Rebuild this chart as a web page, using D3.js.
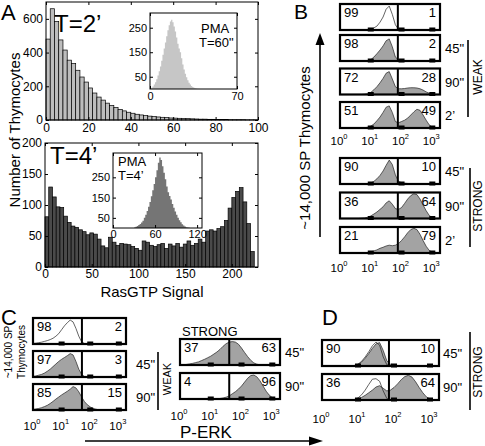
<!DOCTYPE html>
<html><head><meta charset="utf-8">
<script src="https://cdn.jsdelivr.net/npm/d3@7"></script>
<style>body{margin:0;background:#fff} svg{display:block}</style>
</head><body><svg id="c" width="485" height="446"></svg>
<script>
// ---------------- DATA ----------------
// Panel A, top: RasGTP histogram T=2' (bin width 2, starting at 0)
const hist2BinWidth = 2;
const hist2Counts = [480,660,585,475,415,355,335,295,255,225,190,160,136,118,100,86,74,63,54,46,40,34,30,26,23,20,18,16,14,12,11,10,9,8,7,6,5,5,4,4,3,3,3,2,2,2,2,1,1,1];
const hist2XTicks = [0,20,40,60,80,100];
const hist2YTicks = [0,200,400,600];
// Panel A, bottom: RasGTP histogram T=4' (bin width 4)
const hist4BinWidth = 4;
const hist4Counts = [81,129,113,97,96,82,72,66,64,60,57,52,55,53,45,34,31,48,40,35,38,37,36,33,30,27,42,40,35,33,36,38,30,37,34,38,32,37,42,35,38,45,40,58,60,58,62,65,75,95,112,122,128,105,70,25];
const hist4XTicks = [0,50,100,150,200];
const hist4YTicks = [0,50,100,150,200];
// Inset PMA T=60" (bin width 1, from 0)
const pma60BinWidth = 1;
const pma60Counts = [2,5,10,18,28,40,55,72,92,115,140,165,190,215,240,260,275,282,272,255,235,210,185,165,150,125,100,80,62,48,36,26,18,12,8,5,3,2,1,1];
const pma60XTicks = [0,70];
const pmaYTicks = [50,150,250];
// Inset PMA T=4' (bin width 2, from 30)
const pma4Start = 30, pma4BinWidth = 2;
const pma4Counts = [3,6,10,15,20,27,36,50,65,84,105,128,157,186,217,250,285,322,348,335,305,272,240,205,176,158,141,119,100,81,65,50,38,28,19,12,8,4,2,1];
const pma4XTicks = [0,60,120];

// Flow histograms: x = log10 fluorescence grid, y = relative height
const logGrid = [0,0.1,0.2,0.3,0.4,0.5,0.6,0.7,0.8,0.9,1.0,1.1,1.2,1.3,1.4,1.5,1.6,1.7,1.8,1.9,2.0,2.1,2.2,2.3,2.4,2.5,2.6,2.7,2.8,2.9,3.0,3.1,3.2];
const decadeTicks = [0,1,2,3];
const bUnstim = [0,0,0,0,0,0,0,0,0,0,0.03,0.08,0.15,0.3,0.5,0.8,0.92,0.6,0.2,0.03,0,0,0,0,0,0,0,0,0,0,0,0,0];
const bWeak45 = [0,0,0,0,0,0,0,0,0,0.01,0.05,0.15,0.28,0.42,0.58,0.78,0.85,0.55,0.15,0.05,0.02,0.01,0,0,0,0,0,0,0,0,0,0,0];
const bWeak90 = [0,0,0,0,0,0,0,0,0.01,0.03,0.08,0.18,0.3,0.45,0.62,0.82,0.88,0.6,0.3,0.22,0.22,0.23,0.25,0.26,0.26,0.25,0.22,0.17,0.1,0.05,0.02,0,0];
const bWeak2m = [0,0,0,0,0,0,0,0,0.01,0.03,0.07,0.15,0.28,0.42,0.6,0.8,0.85,0.6,0.25,0.2,0.25,0.3,0.38,0.5,0.62,0.72,0.68,0.5,0.3,0.12,0.03,0,0];
const bStrong45 = [0,0,0,0,0,0,0,0,0,0.01,0.04,0.1,0.2,0.33,0.5,0.72,0.92,0.75,0.35,0.1,0.05,0.03,0.02,0.01,0,0,0,0,0,0,0,0,0];
const bStrong90 = [0,0,0,0,0,0,0,0.01,0.02,0.05,0.1,0.17,0.25,0.35,0.45,0.6,0.68,0.55,0.38,0.35,0.42,0.58,0.75,0.88,0.95,0.92,0.75,0.52,0.3,0.12,0.03,0,0];
const bStrong2m = [0,0,0,0,0,0,0,0,0,0.01,0.04,0.08,0.12,0.18,0.22,0.27,0.3,0.28,0.3,0.36,0.48,0.62,0.78,0.9,0.95,0.9,0.72,0.48,0.26,0.1,0.03,0,0];
const cUnstim = [0.02,0.03,0.05,0.07,0.1,0.13,0.17,0.22,0.3,0.4,0.55,0.7,0.82,0.92,0.85,0.6,0.3,0.08,0.02,0,0,0,0,0,0,0,0,0,0,0,0,0,0];
const cWeak45 = [0.02,0.04,0.07,0.1,0.15,0.22,0.3,0.4,0.5,0.6,0.68,0.75,0.82,0.9,0.85,0.6,0.3,0.1,0.02,0,0,0,0,0,0,0,0,0,0,0,0,0,0];
const cWeak90 = [0.02,0.04,0.06,0.09,0.13,0.18,0.25,0.33,0.42,0.5,0.58,0.65,0.72,0.8,0.9,0.85,0.7,0.5,0.32,0.2,0.12,0.06,0.03,0.01,0,0,0,0,0,0,0,0,0];
const cStrong45 = [0,0.01,0.02,0.04,0.06,0.09,0.12,0.17,0.22,0.28,0.34,0.42,0.5,0.6,0.72,0.82,0.88,0.9,0.88,0.8,0.65,0.48,0.32,0.18,0.08,0.03,0.01,0,0,0,0,0,0];
const cStrong90 = [0,0,0,0,0,0,0,0,0,0,0,0,0.01,0.02,0.04,0.07,0.12,0.2,0.28,0.38,0.5,0.65,0.8,0.9,0.92,0.85,0.7,0.5,0.3,0.15,0.05,0.01,0];
const dGray45 = [0,0,0,0,0,0,0,0,0,0.02,0.06,0.15,0.3,0.48,0.68,0.85,0.9,0.6,0.2,0.07,0.04,0.02,0,0,0,0,0,0,0,0,0,0,0];
const dOpen45 = [0,0,0,0,0,0,0,0,0,0.02,0.07,0.18,0.35,0.55,0.78,0.92,0.8,0.35,0.05,0,0,0,0,0,0,0,0,0,0,0,0,0,0];
const dGray90 = [0,0,0,0,0,0,0,0,0,0.02,0.05,0.1,0.18,0.28,0.38,0.5,0.55,0.45,0.35,0.38,0.48,0.62,0.78,0.9,0.95,0.88,0.7,0.48,0.28,0.12,0.04,0,0];
const dOpen90 = [0,0,0,0,0,0,0,0,0,0.02,0.08,0.2,0.38,0.6,0.8,0.82,0.72,0.35,0.06,0,0,0,0,0,0,0,0,0,0,0,0,0,0];

const bWeakPct = [[99,1],[98,2],[72,28],[51,49]];
const bStrongPct = [[90,10],[36,64],[21,79]];
const cWeakPct = [[98,2],[97,3],[85,15]];
const cStrongPct = [[37,63],[4,96]];
const dPct = [[90,10],[36,64]];
const timeLabelsB = ['', '45"', '90"', '2\u2019'];
const timeLabelsBS = ['45"', '90"', '2\u2019'];
const timeLabelsCD = ['45"', '90"'];

// ---------------- DRAWING ----------------
const FONT = '"Liberation Sans", Arial, Helvetica, sans-serif';
const svg = d3.select('#c').attr('font-family', FONT);

function txt(g, x, y, s, fs, anchor, rot) {
  const t = g.append('text').attr('font-size', fs).attr('text-anchor', anchor || 'start').attr('fill', '#000');
  if (rot) t.attr('transform', `translate(${x},${y}) rotate(${rot})`);
  else t.attr('x', x).attr('y', y);
  t.text(s);
  return t;
}

function boxAxes(g, xs, ys, xticks, yticks, fs, padX, padY) {
  const [x0, x1] = xs.range();
  const [yb, yt] = ys.range();
  const style = sel => {
    sel.select('.domain').remove();
    sel.attr('font-family', FONT).attr('font-size', fs);
    sel.selectAll('line').attr('stroke', '#000');
    sel.selectAll('text').attr('fill', '#000');
  };
  g.append('g').attr('transform', `translate(0,${yb})`)
    .call(d3.axisBottom(xs).tickValues(xticks).tickSizeInner(-3).tickSizeOuter(0).tickPadding(padX)).call(style);
  g.append('g').attr('transform', `translate(0,${yt})`)
    .call(d3.axisTop(xs).tickValues(xticks).tickSizeInner(-3).tickSizeOuter(0).tickFormat('')).call(style);
  g.append('g').attr('transform', `translate(${x0},0)`)
    .call(d3.axisLeft(ys).tickValues(yticks).tickSizeInner(-3).tickSizeOuter(0).tickPadding(padY)).call(style);
  g.append('g').attr('transform', `translate(${x1},0)`)
    .call(d3.axisRight(ys).tickValues(yticks).tickSizeInner(-3).tickSizeOuter(0).tickFormat('')).call(style);
  g.append('rect').attr('x', x0).attr('y', yt).attr('width', x1 - x0).attr('height', yb - yt)
    .attr('fill', 'none').attr('stroke', '#000').attr('stroke-width', 1);
}

function barHist(g, xs, ys, counts, start, w, fill) {
  g.append('g').selectAll('rect').data(counts).join('rect')
    .attr('x', (d, i) => xs(start + i * w))
    .attr('width', (d, i) => xs(start + (i + 1) * w) - xs(start + i * w))
    .attr('y', d => ys(d))
    .attr('height', d => ys(0) - ys(d))
    .attr('fill', fill).attr('stroke', '#000').attr('stroke-width', 0.7);
}

function stepHist(g, xs, ys, counts, start, w, fill) {
  const pts = counts.map((d, i) => [start + i * w, d]);
  pts.push([start + counts.length * w, 0]);
  g.append('path').datum(pts)
    .attr('d', d3.area().curve(d3.curveStepAfter).x(d => xs(d[0])).y0(ys(0)).y1(d => ys(d[1])))
    .attr('fill', fill);
}

// ---- Panel A top ----
const gA = svg.append('g');
txt(gA, 1, 20, 'A', 22);
const xA1 = d3.scaleLinear().domain([0, 100]).range([46, 258]);
const yA1 = d3.scaleLinear().domain([0, 700]).range([120, 2]);
barHist(gA, xA1, yA1, hist2Counts, 0, hist2BinWidth, '#bdbdbd');
boxAxes(gA, xA1, yA1, hist2XTicks, hist2YTicks, 12, 3, 3);
txt(gA, 54, 32, 'T=2\u2019', 24);

// inset T=60"
const xI1 = d3.scaleLinear().domain([0, 70]).range([150, 237]);
const yI1 = d3.scaleLinear().domain([0, 310]).range([89, 13]);
gA.append('rect').attr('x', 150).attr('y', 13).attr('width', 87).attr('height', 76).attr('fill', '#fff');
stepHist(gA, xI1, yI1, pma60Counts, 0, pma60BinWidth, '#c6c6c6');
boxAxes(gA, xI1, yI1, pma60XTicks, pmaYTicks, 11, 3, 3);
txt(gA, 201, 33, 'PMA', 13);
txt(gA, 199, 47, 'T=60"', 13);

// ---- Panel A bottom ----
const xA2 = d3.scaleLinear().domain([0, 228]).range([45, 258]);
const yA2 = d3.scaleLinear().domain([0, 200]).range([267, 143]);
barHist(gA, xA2, yA2, hist4Counts, 0, hist4BinWidth, '#4a4a4a');
boxAxes(gA, xA2, yA2, hist4XTicks, hist4YTicks, 12, 2, 3);
txt(gA, 50, 164, 'T=4\u2019', 24);
const xI2 = d3.scaleLinear().domain([0, 127]).range([113, 202]);
const yI2 = d3.scaleLinear().domain([0, 370]).range([228, 153]);
gA.append('rect').attr('x', 113).attr('y', 153).attr('width', 89).attr('height', 75).attr('fill', '#fff');
stepHist(gA, xI2, yI2, pma4Counts, pma4Start, pma4BinWidth, '#757575');
boxAxes(gA, xI2, yI2, pma4XTicks, pmaYTicks, 11, 2, 3);
txt(gA, 118, 166, 'PMA', 13);
txt(gA, 118, 180, 'T=4\u2019', 13);
txt(gA, 152, 297, 'RasGTP Signal', 15, 'middle');
txt(gA, 20, 130, 'Number of Thymocytes', 15, 'middle', -90);

// ---- flow box helper ----
function flowBox(g, x0, y0, w, h, gate, pct, curves) {
  const xs = d3.scaleLinear().domain([0, 3.25]).range([x0, x0 + w]);
  const ys = d3.scaleLinear().domain([0, 1]).range([y0 + h, y0]);
  const id = 'clip' + Math.round(x0) + '_' + Math.round(y0);
  g.append('clipPath').attr('id', id).append('rect').attr('x', x0).attr('y', y0).attr('width', w).attr('height', h);
  const cg = g.append('g').attr('clip-path', `url(#${id})`);
  curves.forEach(c => {
    const area = d3.area().x((d, i) => xs(logGrid[i])).y0(ys(0)).y1(d => ys(d));
    const line = d3.line().x((d, i) => xs(logGrid[i])).y(d => ys(d));
    if (c.kind === 'gray') {
      cg.append('path').datum(c.v).attr('d', area).attr('fill', '#a3a3a3');
      cg.append('path').datum(c.v).attr('d', line).attr('fill', 'none').attr('stroke', '#222').attr('stroke-width', 0.7);
    } else {
      cg.append('path').datum(c.v).attr('d', line).attr('fill', 'none').attr('stroke', '#222').attr('stroke-width', 0.7);
    }
  });
  g.append('line').attr('x1', xs(gate)).attr('x2', xs(gate)).attr('y1', y0).attr('y2', y0 + h)
    .attr('stroke', '#000').attr('stroke-width', 2);
  decadeTicks.slice(1).forEach(k => {
    g.append('rect').attr('x', xs(k) - 3).attr('y', y0 + h - 2.5).attr('width', 6).attr('height', 4).attr('fill', '#000');
  });
  g.append('rect').attr('x', x0).attr('y', y0).attr('width', w).attr('height', h)
    .attr('fill', 'none').attr('stroke', '#000').attr('stroke-width', 2.2);
  txt(g, x0 + 4, y0 + 13, pct[0], 13);
  txt(g, x0 + w - 4, y0 + 13, pct[1], 13, 'end');
  return xs;
}
function decadeLabels(g, xs, yb) {
  decadeTicks.forEach(k => {
    const t = g.append('text').attr('x', xs(k) - 1).attr('y', yb).attr('font-size', 11.5).attr('text-anchor', 'middle');
    t.append('tspan').text('10');
    t.append('tspan').attr('dy', -6).attr('font-size', 7.5).text(k);
  });
}

// ---- Panel B ----
const gB = svg.append('g');
txt(gB, 294, 19, 'B', 21);
const bWeakCurves = [[{kind: 'open', v: bUnstim}], [{kind: 'gray', v: bWeak45}], [{kind: 'gray', v: bWeak90}], [{kind: 'gray', v: bWeak2m}]];
const bWeakTops = [4, 35, 68.5, 102];
let xsB;
bWeakCurves.forEach((c, i) => {
  xsB = flowBox(gB, 340, bWeakTops[i], 100, 26, 1.88, bWeakPct[i], c);
  if (timeLabelsB[i]) txt(gB, 445, bWeakTops[i] + 18, timeLabelsB[i], 13);
});
decadeLabels(gB, xsB, 145);
const bStrongCurves = [[{kind: 'gray', v: bStrong45}], [{kind: 'gray', v: bStrong90}], [{kind: 'gray', v: bStrong2m}]];
const bStrongTops = [158, 192.5, 227];
bStrongCurves.forEach((c, i) => {
  xsB = flowBox(gB, 340, bStrongTops[i], 100, 26, 1.88, bStrongPct[i], c);
  txt(gB, 445, bStrongTops[i] + 18, timeLabelsBS[i], 13);
});
decadeLabels(gB, xsB, 272);
gB.append('line').attr('x1', 468).attr('x2', 468).attr('y1', 40).attr('y2', 117).attr('stroke', '#000').attr('stroke-width', 1.6);
txt(gB, 482, 77, 'WEAK', 12, 'middle', -90);
gB.append('line').attr('x1', 470).attr('x2', 470).attr('y1', 168).attr('y2', 247).attr('stroke', '#000').attr('stroke-width', 1.6);
txt(gB, 482, 206, 'STRONG', 12, 'middle', -90);
// vertical arrow
gB.append('line').attr('x1', 320).attr('x2', 320).attr('y1', 42).attr('y2', 237).attr('stroke', '#000').attr('stroke-width', 1.6);
gB.append('path').attr('d', 'M320,33 L315.5,45 L324.5,45 Z').attr('fill', '#000');
txt(gB, 310, 148, '~14,000 SP Thymocytes', 15, 'middle', -90);

// ---- Panel C ----
const gC = svg.append('g');
txt(gC, 1, 325, 'C', 22);
const cWeakCurves = [[{kind: 'open', v: cUnstim}], [{kind: 'gray', v: cWeak45}], [{kind: 'gray', v: cWeak90}]];
const cWeakTops = [318, 351, 384];
let xsC;
cWeakCurves.forEach((c, i) => {
  xsC = flowBox(gC, 33, cWeakTops[i], 93, 26, 1.71, cWeakPct[i], c);
  if (i > 0) txt(gC, 136, cWeakTops[i] + 18, timeLabelsCD[i - 1], 13);
});
decadeLabels(gC, xsC, 430);
gC.append('line').attr('x1', 158).attr('x2', 158).attr('y1', 352).attr('y2', 410).attr('stroke', '#000').attr('stroke-width', 1.6);
txt(gC, 171, 379, 'WEAK', 11, 'middle', -90);
txt(gC, 12, 352, '~14,000 SP', 10, 'middle', -90);
txt(gC, 25, 352, 'Thymocytes', 10, 'middle', -90);
const cStrongCurves = [[{kind: 'gray', v: cStrong45}], [{kind: 'gray', v: cStrong90}]];
const cStrongTops = [339, 373];
cStrongCurves.forEach((c, i) => {
  xsC = flowBox(gC, 180, cStrongTops[i], 100, 26, 1.6, cStrongPct[i], c);
  txt(gC, 285, cStrongTops[i] + 18, timeLabelsCD[i], 13);
});
decadeLabels(gC, xsC, 420);
txt(gC, 182, 336, 'STRONG', 13);
// P-ERK arrow
gC.append('line').attr('x1', 85).attr('x2', 312).attr('y1', 441).attr('y2', 441).attr('stroke', '#000').attr('stroke-width', 1.6);
gC.append('path').attr('d', 'M323,441 L309,436.5 L309,445.5 Z').attr('fill', '#000');
txt(gC, 180, 438, 'P-ERK', 17);

// ---- Panel D ----
const gD = svg.append('g');
txt(gD, 322, 325, 'D', 22);
const dCurves = [[{kind: 'gray', v: dGray45}, {kind: 'open', v: dOpen45}], [{kind: 'gray', v: dGray90}, {kind: 'open', v: dOpen90}]];
const dTops = [340, 374];
let xsD;
dCurves.forEach((c, i) => {
  xsD = flowBox(gD, 322, dTops[i], 117, 26, 1.86, dPct[i], c);
  txt(gD, 443, dTops[i] + 18, timeLabelsCD[i], 13);
});
decadeLabels(gD, xsD, 423);
gD.append('line').attr('x1', 470).attr('x2', 470).attr('y1', 332).attr('y2', 410).attr('stroke', '#000').attr('stroke-width', 1.6);
txt(gD, 482, 372, 'STRONG', 12, 'middle', -90);
</script></body></html>
